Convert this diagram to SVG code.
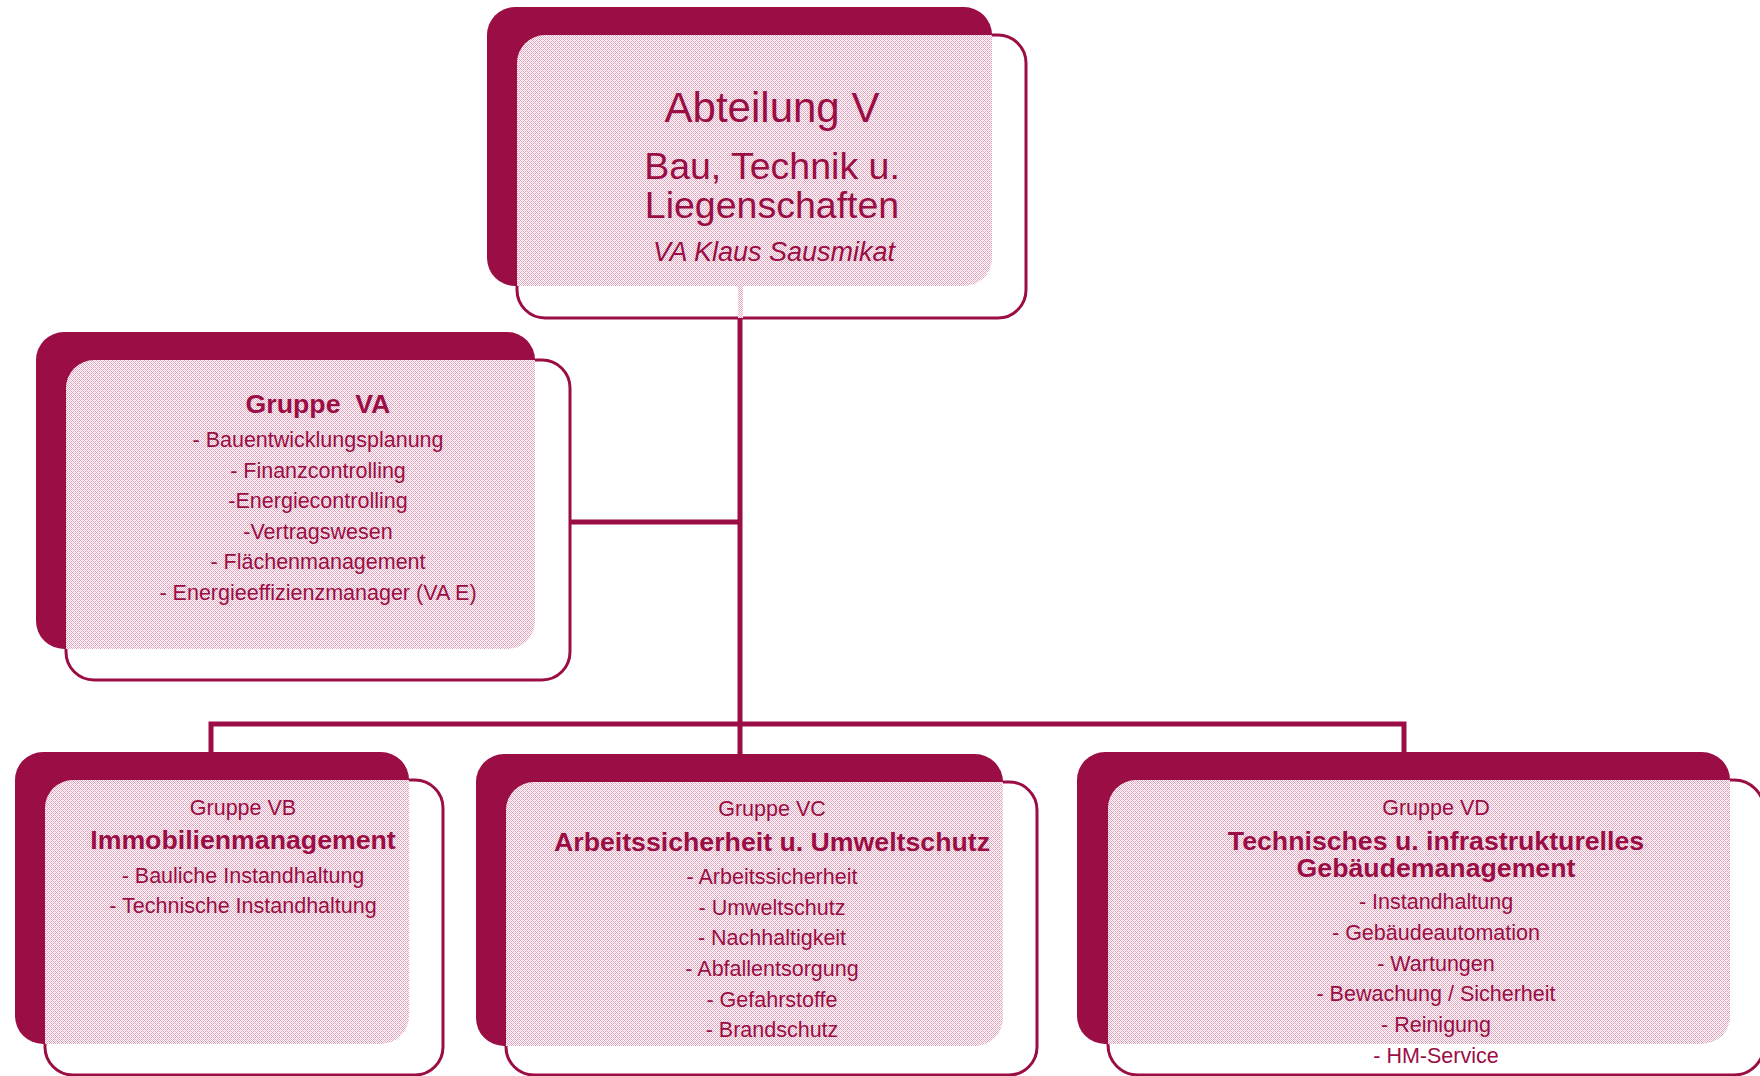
<svg xmlns="http://www.w3.org/2000/svg" width="1760" height="1076" viewBox="0 0 1760 1076">
<defs>
<pattern id="dots" patternUnits="userSpaceOnUse" width="4" height="4">
<rect width="4" height="4" fill="#ffffff"/>
<rect x="0" y="0" width="1" height="1" fill="#e4a0ba"/>
<rect x="2" y="0" width="1" height="1" fill="#efc3d3"/>
<rect x="1" y="1" width="1" height="1" fill="#e4a0ba"/>
<rect x="3" y="1" width="1" height="1" fill="#e4a0ba"/>
<rect x="0" y="2" width="1" height="1" fill="#efc3d3"/>
<rect x="2" y="2" width="1" height="1" fill="#e4a0ba"/>
<rect x="1" y="3" width="1" height="1" fill="#e4a0ba"/>
<rect x="3" y="3" width="1" height="1" fill="#e4a0ba"/>
</pattern>
</defs>
<style>
.dark{fill:#9b0d45}
.front{fill:#ffffff;stroke:#9b0d45;stroke-width:3}
.pat{fill:url(#dots)}
.conn{stroke:#9b0d45;stroke-width:5;fill:none}
text{font-family:"Liberation Sans",Arial,sans-serif;fill:#9b0d45;text-anchor:middle;white-space:pre}
.b{font-weight:bold}
.it{font-style:italic}
.s21{font-size:21.5px}
.s26{font-size:26.7px}
</style>
<g id="connectors">
<line class="conn" x1="740" y1="318" x2="740" y2="754"/>
<line class="conn" x1="570" y1="522" x2="740" y2="522"/>
<polyline class="conn" points="211,752 211,724 1404,724 1404,752"/>
</g>
<g id="node-abteilung-v">
<rect class="dark" x="487" y="7" width="505" height="279" rx="28"/>
<rect class="front" x="517" y="35" width="509" height="283" rx="28"/>
<path class="pat" d="M545,35 H992 V258 A28,28 0 0 1 964,286 H517 V63 A28,28 0 0 1 545,35 Z"/>
<rect class="pat" x="738" y="286" width="5" height="32"/>
<text x="772" y="122" style="font-size:42px">Abteilung V</text>
<text x="772" y="179" style="font-size:37.5px">Bau, Technik u.</text>
<text x="772" y="218" style="font-size:37.5px">Liegenschaften</text>
<text x="774" y="261" class="it" style="font-size:27px">VA Klaus Sausmikat</text>
</g>
<g id="node-gruppe-va">
<rect class="dark" x="36" y="332" width="499" height="317" rx="28"/>
<rect class="front" x="66" y="360" width="504" height="320" rx="28"/>
<path class="pat" d="M94,360 H535 V621 A28,28 0 0 1 507,649 H66 V388 A28,28 0 0 1 94,360 Z"/>
<text x="318" y="413" class="b s26">Gruppe  VA</text>
<text x="318" y="447" class="s21">- Bauentwicklungsplanung</text>
<text x="318" y="478" class="s21">- Finanzcontrolling</text>
<text x="318" y="508" class="s21">-Energiecontrolling</text>
<text x="318" y="539" class="s21">-Vertragswesen</text>
<text x="318" y="569" class="s21">- Flächenmanagement</text>
<text x="318" y="600" class="s21">- Energieeffizienzmanager (VA E)</text>
</g>
<g id="node-gruppe-vb">
<rect class="dark" x="15" y="752" width="394" height="292" rx="28"/>
<rect class="front" x="45" y="780" width="398" height="295" rx="28"/>
<path class="pat" d="M73,780 H409 V1016 A28,28 0 0 1 381,1044 H45 V808 A28,28 0 0 1 73,780 Z"/>
<text x="243" y="815" class="s21">Gruppe VB</text>
<text x="243" y="849" class="b s26">Immobilienmanagement</text>
<text x="243" y="883" class="s21">- Bauliche Instandhaltung</text>
<text x="243" y="913" class="s21">- Technische Instandhaltung</text>
</g>
<g id="node-gruppe-vc">
<rect class="dark" x="476" y="754" width="527" height="292" rx="28"/>
<rect class="front" x="506" y="782" width="531" height="293" rx="28"/>
<path class="pat" d="M534,782 H1003 V1018 A28,28 0 0 1 975,1046 H506 V810 A28,28 0 0 1 534,782 Z"/>
<text x="772" y="816" class="s21">Gruppe VC</text>
<text x="772" y="851" class="b s26">Arbeitssicherheit u. Umweltschutz</text>
<text x="772" y="884" class="s21">- Arbeitssicherheit</text>
<text x="772" y="915" class="s21">- Umweltschutz</text>
<text x="772" y="945" class="s21">- Nachhaltigkeit</text>
<text x="772" y="976" class="s21">- Abfallentsorgung</text>
<text x="772" y="1007" class="s21">- Gefahrstoffe</text>
<text x="772" y="1037" class="s21">- Brandschutz</text>
</g>
<g id="node-gruppe-vd">
<rect class="dark" x="1077" y="752" width="653" height="292" rx="28"/>
<rect class="front" x="1108" y="780" width="656" height="295" rx="30"/>
<path class="pat" d="M1136,780 H1730 V1016 A28,28 0 0 1 1702,1044 H1108 V808 A28,28 0 0 1 1136,780 Z"/>
<text x="1436" y="815" class="s21">Gruppe VD</text>
<text x="1436" y="850" class="b s26">Technisches u. infrastrukturelles</text>
<text x="1436" y="877" class="b s26">Gebäudemanagement</text>
<text x="1436" y="909" class="s21">- Instandhaltung</text>
<text x="1436" y="940" class="s21">- Gebäudeautomation</text>
<text x="1436" y="971" class="s21">- Wartungen</text>
<text x="1436" y="1001" class="s21">- Bewachung / Sicherheit</text>
<text x="1436" y="1032" class="s21">- Reinigung</text>
<text x="1436" y="1063" class="s21">- HM-Service</text>
</g>
</svg>
